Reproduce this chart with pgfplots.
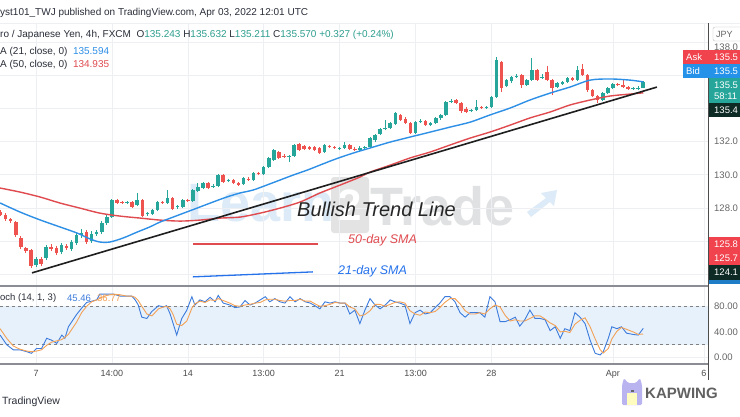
\documentclass[border=0pt]{standalone}
\usepackage{fontspec}
\setmainfont{Liberation Sans}
\usepackage{pgfplots}
\usepackage{pgfplotstable}
\pgfplotsset{compat=1.18}
\definecolor{upc}{HTML}{26A69A}
\definecolor{dnc}{HTML}{EF5350}
\definecolor{smab}{HTML}{2E8FE6}
\definecolor{smar}{HTML}{E04B50}
\definecolor{gridc}{HTML}{EDEFF3}
\definecolor{txt}{HTML}{2A2E39}
\definecolor{kc}{HTML}{3C7BDC}
\definecolor{dc}{HTML}{F3A156}
\definecolor{band}{HTML}{E6F1FC}
\definecolor{tealv}{HTML}{2E9E8F}
\definecolor{askr}{HTML}{F0434D}
\definecolor{bidb}{HTML}{2592EA}
\definecolor{darkg}{HTML}{0E2A24}
\definecolor{sepc}{HTML}{8A8D94}
\definecolor{wmb}{HTML}{DCEBF7}
\definecolor{wmg}{HTML}{E0E1E2}
\definecolor{kap}{HTML}{B9B4F0}
\newcommand\fs[1]{\fontsize{#1}{#1}\selectfont}

\pgfplotstableread{
i o h l c
7 124.56 125.04 124.44 124.92
9 124.98 125.77 124.86 125.65
12 125.35 125.89 125.22 125.77
14 125.53 126.07 125.41 125.95
15 125.89 126.55 125.77 126.37
16 126.37 126.73 126.19 126.49
18 126.01 126.61 125.89 126.43
19 126.43 126.67 126.31 126.55
20 126.55 127.21 126.43 127.09
21 127.09 127.57 126.97 127.45
22 127.45 128.54 127.39 128.48
25 128.30 128.42 128.23 128.36
27 128.17 128.90 128.11 128.48
29 127.63 127.75 127.51 127.69
30 127.63 127.93 127.57 127.87
31 127.87 128.42 127.81 128.36
33 128.30 129.08 128.23 128.60
35 128.05 128.17 127.93 128.11
36 128.05 128.54 127.99 128.48
38 128.42 129.14 128.36 129.08
39 129.02 129.50 128.96 129.26
40 129.20 129.56 129.14 129.50
42 129.26 129.44 129.20 129.32
43 129.32 130.04 129.26 129.98
45 129.62 129.74 129.56 129.68
48 129.44 129.86 129.38 129.80
50 129.68 130.16 129.62 130.10
52 130.04 130.52 129.98 130.46
53 130.46 131.07 130.40 131.01
54 130.89 131.55 130.83 131.49
57 131.07 131.19 130.77 131.13
58 131.13 131.85 131.07 131.79
64 131.37 131.85 131.31 131.79
67 131.55 131.67 131.49 131.61
68 131.61 131.97 131.55 131.79
71 131.49 131.73 131.43 131.61
72 131.61 131.73 131.55 131.67
73 131.67 132.27 131.61 132.21
74 132.09 132.45 131.97 132.39
75 132.45 132.81 132.39 132.75
76 132.75 133.30 132.69 132.81
77 132.81 133.17 132.75 133.11
78 133.05 133.78 132.99 133.72
82 132.51 133.24 132.45 133.17
83 133.17 133.36 133.11 133.24
85 132.99 133.17 132.93 133.11
86 133.11 133.48 133.05 133.42
87 133.42 133.66 133.30 133.60
88 133.60 134.44 133.54 134.38
89 134.38 134.56 134.32 134.44
93 133.84 133.96 133.78 133.90
94 133.90 134.50 133.84 134.08
96 134.02 134.14 133.96 134.08
97 134.08 134.74 134.02 134.68
98 134.68 137.09 134.62 136.91
100 135.34 135.77 135.28 135.70
101 135.64 135.95 135.52 135.89
102 135.89 136.07 135.83 135.95
104 135.40 135.77 135.34 135.70
105 135.70 137.03 135.64 136.31
107 135.83 136.07 135.77 135.89
110 135.28 135.58 135.22 135.52
111 135.46 135.64 135.40 135.58
112 135.58 135.89 135.52 135.83
114 135.70 136.55 135.64 136.31
119 134.50 134.98 134.44 134.92
120 134.92 135.28 134.86 135.22
121 135.22 135.52 135.16 135.46
125 135.16 135.28 135.10 135.20
126 135.16 135.34 135.10 135.24
127 135.243 135.632 135.211 135.570
}\up

\pgfplotstableread{
i o h l c
0 127.75 127.87 127.51 127.57
1 127.57 127.69 127.21 127.33
2 127.33 127.39 127.09 127.21
3 127.15 127.21 126.25 126.37
4 126.19 126.31 125.53 125.65
5 125.59 125.65 125.28 125.41
6 125.47 125.53 124.38 124.50
8 124.92 125.04 124.50 124.62
10 125.65 125.83 125.41 125.53
11 125.59 125.71 125.16 125.28
13 125.71 125.83 125.47 125.59
17 126.55 126.67 125.83 125.95
23 128.48 128.54 128.23 128.30
24 128.36 128.42 128.23 128.30
26 128.36 128.42 127.99 128.05
28 128.48 128.54 127.45 127.51
32 128.36 128.42 128.23 128.30
34 128.60 128.66 127.87 127.93
37 128.48 128.54 128.36 128.42
41 129.50 129.56 129.14 129.20
44 129.98 130.04 129.50 129.56
46 129.68 129.74 129.44 129.50
47 129.50 129.56 129.32 129.38
49 129.74 129.86 129.62 129.68
51 130.10 130.16 129.98 130.04
55 131.37 131.43 130.95 131.01
56 131.13 131.25 131.01 131.07
59 131.85 131.91 131.43 131.49
60 131.73 131.79 131.49 131.55
61 131.67 131.73 131.49 131.55
62 131.67 131.73 131.43 131.49
63 131.61 131.67 131.25 131.31
65 131.73 131.79 131.61 131.67
66 131.67 131.73 131.55 131.61
69 131.79 131.85 131.49 131.55
70 131.55 131.67 131.43 131.49
79 133.60 133.66 133.24 133.30
80 133.36 133.48 133.05 133.11
81 133.11 133.17 132.45 132.51
84 133.24 133.30 132.93 132.99
90 134.50 134.56 134.26 134.32
91 134.32 134.38 133.72 133.84
92 133.96 134.08 133.72 133.78
95 134.08 134.14 133.96 134.02
99 136.79 136.85 134.98 135.22
103 136.01 136.07 135.22 135.40
106 136.31 136.37 135.64 135.70
108 136.19 136.55 135.64 135.70
109 135.70 135.77 134.80 135.22
113 135.83 135.89 135.64 135.70
115 136.37 136.67 135.95 136.01
116 136.01 136.07 134.98 135.10
117 135.10 135.16 134.68 134.74
118 134.74 134.80 134.32 134.50
122 135.46 135.52 135.34 135.40
123 135.40 135.70 135.22 135.28
124 135.28 135.34 135.10 135.16
}\down

\begin{document}
\begin{tikzpicture}
\begin{scope}[x=1pt,y=-1pt]
\fill[white] (0,0) rectangle (740,416);
% watermark (logo)
\node[anchor=west,inner sep=0,text=wmb] at (187,203) {\fs{54}\bfseries Learn};
\fill[black!11,rounded corners=3pt] (331,177) rectangle (369,233);
\node[inner sep=0,text=white] at (350,205) {\fs{44}\bfseries 2};
\node[anchor=west,inner sep=0,text=wmg] at (370,206) {\fs{54}\bfseries Trade};
\fill[wmb] (527,212) -- (546,198) -- (541,193) -- (557,190) -- (554,206) -- (550,202) -- (531,217) -- cycle;
\draw[gridc,line width=0.6pt] (0,23) -- (740,23);
\end{scope}

\begin{axis}[at={(0pt,-285pt)},anchor=south west,width=708pt,height=262pt,scale only axis,
  xmin=-0.12,xmax=139.8,ymin=123.36,ymax=139.14,
  axis line style={draw=none},tick style={draw=none},
  xtick={7,22,37,52,67,82,97,121,139},ytick={124,126,...,138},
  xticklabels={},yticklabels={},grid=major,grid style={gridc,line width=0.6pt}]
% wicks
\addplot[draw=none,error bars/.cd,y dir=plus,y explicit,error mark=none,
  error bar style={draw=upc,line width=0.9pt}]
  table[x=i,y=l,y error plus expr=\thisrow{h}-\thisrow{l}] {\up};
\addplot[draw=none,error bars/.cd,y dir=plus,y explicit,error mark=none,
  error bar style={draw=dnc,line width=0.9pt}]
  table[x=i,y=l,y error plus expr=\thisrow{h}-\thisrow{l}] {\down};
% bodies
\addplot[draw=none,error bars/.cd,y dir=plus,y explicit,error mark=none,
  error bar style={draw=upc,line width=3.5pt}]
  table[x=i,y=o,y error plus expr=\thisrow{c}-\thisrow{o}] {\up};
\addplot[draw=none,error bars/.cd,y dir=plus,y explicit,error mark=none,
  error bar style={draw=dnc,line width=3.5pt}]
  table[x=i,y=c,y error plus expr=\thisrow{o}-\thisrow{c}] {\down};
% SMA 50
\addplot[smar,line width=1.4pt,smooth] coordinates {
(-0.1,129.20)(3.8,128.96)(7.8,128.66)(11.7,128.30)(15.7,127.99)(19.6,127.69)(23.6,127.51)
(27.6,127.39)(31.5,127.27)(35.5,127.21)(39.4,127.27)(43.4,127.39)(47.3,127.45)(51.3,127.69)
(55.2,127.99)(59.2,128.36)(63.1,128.90)(67.1,129.38)(71.0,129.86)(73.0,130.16)(77.0,130.58)
(80.9,131.01)(84.9,131.37)(88.8,131.79)(92.8,132.21)(96.7,132.57)(100.7,132.99)(104.6,133.42)
(108.6,133.78)(112.5,134.20)(116.5,134.50)(120.4,134.74)(124.4,134.86)(127.0,134.935)};
% SMA 21
\addplot[smab,line width=1.4pt,smooth] coordinates {
(-0.1,128.30)(3.8,127.76)(7.8,127.28)(11.7,126.86)(15.1,126.49)(17.7,126.13)(19.6,125.95)
(21.6,125.95)(24.2,126.19)(27.0,126.55)(29.5,126.86)(31.5,127.15)(34.1,127.45)(36.8,127.76)
(39.4,128.06)(42.0,128.36)(44.7,128.66)(47.3,128.90)(49.9,129.08)(52.6,129.38)(55.2,129.68)
(57.8,129.98)(60.6,130.28)(63.1,130.58)(65.7,130.89)(68.5,131.19)(71.0,131.43)(73.0,131.61)
(77.0,131.97)(80.9,132.27)(84.9,132.57)(88.8,132.87)(92.8,133.17)(96.7,133.60)(100.7,134.02)
(104.6,134.50)(108.6,134.92)(112.5,135.28)(116.5,135.70)(120.4,135.77)(124.4,135.70)(127.0,135.594)};
% trend line
\addplot[black!88,line width=1.6pt] coordinates {(6.2,124.09)(129.7,135.28)};
% annotation keys
\addplot[smar,line width=1.3pt] coordinates {(38.0,125.83)(62.7,125.83)};
\addplot[smab!80!blue,line width=1.3pt] coordinates {(38.0,123.85)(61.7,124.15)};
\end{axis}

\begin{axis}[at={(0pt,-364pt)},anchor=south west,width=708pt,height=78pt,scale only axis,
  xmin=-0.12,xmax=139.8,ymin=-10.2,ymax=111.7,
  axis line style={draw=none},tick style={draw=none},
  xtick={7,22,37,52,67,82,97,121,139},
  xticklabels={7,14:00,14,13:00,21,13:00,28,Apr,6},
  xticklabel style={font=\fs{9},text=black!70,yshift=-3pt},
  ytick={0},yticklabels={},grid=major,grid style={gridc,line width=0.6pt}]
\addplot[draw=none,fill=band] coordinates {(-0.12,20)(139.8,20)(139.8,80)(-0.12,80)} -- cycle;
\addplot[black!50,dash pattern=on 3pt off 3pt,line width=0.7pt] coordinates {(-0.12,80)(139.8,80)};
\addplot[black!50,dash pattern=on 3pt off 3pt,line width=0.7pt] coordinates {(-0.12,20)(139.8,20)};
\addplot[kc,line width=0.9pt] coordinates {
(-0.1,35)(1.2,20)(2.5,12)(3.8,12)(5.2,9)(6.1,6.5)(7.1,14)(8.1,14)(9.1,30)(10.1,27)(11.1,22)
(12.1,35)(12.7,30)(13.4,48)(15.0,67)(16.0,77)(17.0,86)(18.0,88)(19.0,90)(19.6,99)(21.0,99)
(22.3,99)(23.6,96)(24.9,96)(25.9,96)(26.6,90)(27.2,82)(27.9,63)(28.9,61)(29.9,72)(30.5,76)
(31.2,81)(32.2,79)(32.8,81)(33.5,68)(34.1,53)(34.8,35)(35.8,61)(36.8,74)(37.8,95)(38.4,82)
(39.4,90)(40.4,87)(41.4,94)(42.4,87)(43.0,97)(44.0,85)(45.3,82)(46.3,78)(47.3,79)(48.3,89)
(49.3,82)(50.3,85)(51.3,90)(52.3,95)(53.2,87)(54.2,92)(55.2,87)(56.2,85)(57.2,95)(58.2,87)
(59.2,92)(60.2,87)(61.2,85)(62.1,81)(63.1,76)(64.1,87)(65.1,85)(66.1,87)(67.1,85)(68.1,85)
(69.0,68)(70.0,74)(71.0,53)(72.0,74)(73.0,92)(74.0,82)(75.0,76)(76.0,82)(77.0,90)(77.9,87)
(78.9,85)(79.9,82)(80.9,53)(81.9,70)(82.9,74)(83.9,68)(84.9,70)(85.9,78)(86.8,85)(87.8,95)
(88.8,95)(89.8,87)(90.8,70)(91.8,63)(92.8,70)(93.8,70)(94.7,70)(95.7,63)(96.7,95)(97.7,87)
(98.7,56)(99.7,56)(100.7,59)(101.7,63)(102.6,49)(103.6,59)(104.6,74)(105.6,61)(106.6,61)
(107.6,59)(108.6,42)(109.6,48)(110.6,30)(111.5,45)(112.5,42)(113.5,70)(114.5,63)(115.5,53)
(116.5,27)(117.5,6.5)(118.5,4)(119.1,9)(120.1,30)(120.8,48)(121.8,45)(122.7,48)(123.7,38)
(125.0,36)(126.0,35)(127.0,45.46)};
\addplot[dc,line width=0.9pt] coordinates {
(-0.1,45)(1.2,30)(2.5,18)(3.8,13)(5.2,10)(6.1,9)(7.1,10)(8.1,12)(9.1,19)(10.1,24)(11.1,26)
(12.1,28)(13.4,36)(15.0,55)(16.0,70)(17.0,80)(18.0,87)(19.0,90)(20.0,94)(21.0,97)(22.3,99)
(23.6,98)(24.9,96)(25.9,96)(26.6,94)(27.2,89)(27.9,80)(28.9,68)(29.9,65)(30.5,70)(31.2,76)
(32.2,79)(32.8,80)(33.5,76)(34.1,67)(34.8,52)(35.8,50)(36.8,57)(37.8,77)(38.4,84)(39.4,88)
(40.4,86)(41.4,90)(42.4,89)(43.0,92)(44.0,89)(45.3,85)(46.3,81)(47.3,80)(48.3,82)(49.3,83)
(50.3,85)(51.3,86)(52.3,90)(53.2,91)(54.2,91)(55.2,89)(56.2,88)(57.2,89)(58.2,89)(59.2,91)
(60.2,88)(61.2,88)(62.1,84)(63.1,80)(64.1,81)(65.1,83)(66.1,86)(67.1,85)(68.1,85)(69.0,79)
(70.0,76)(71.0,65)(72.0,67)(73.0,73)(74.0,83)(75.0,83)(76.0,80)(77.0,83)(77.9,86)(78.9,87)
(79.9,85)(80.9,73)(81.9,68)(82.9,66)(83.9,71)(84.9,70)(85.9,72)(86.8,78)(87.8,86)(88.8,92)
(89.8,92)(90.8,84)(91.8,73)(92.8,68)(93.8,68)(94.7,70)(95.7,68)(96.7,76)(97.7,82)(98.7,79)
(99.7,66)(100.7,57)(101.7,59)(102.6,57)(103.6,57)(104.6,61)(105.6,65)(106.6,65)(107.6,60)
(108.6,54)(109.6,50)(110.6,40)(111.5,41)(112.5,39)(113.5,52)(114.5,58)(115.5,62)(116.5,48)
(117.5,29)(118.5,12)(119.1,7)(120.1,14)(120.8,29)(121.8,41)(122.7,47)(123.7,44)(125.0,40)
(126.0,36)(127.0,36.77)};
\end{axis}

\begin{scope}[x=1pt,y=-1pt]
% pane separators and price-scale divider
\draw[sepc,line width=2pt] (0,285.5) -- (708,285.5);
\draw[sepc,line width=2pt] (0,364) -- (708,364);
\draw[black!70,line width=0.8pt] (708,23) -- (708,380);
% header
\node[anchor=west,inner sep=0,text=txt] at (0,13) {\fs{10}yst101\_TWJ published on TradingView.com, Apr 03, 2022 12:01 UTC};
\node[anchor=west,inner sep=0,text=txt] at (0,35) {\fs{10}ro / Japanese Yen, 4h, FXCM\ \ O\textcolor{tealv}{135.243} H\textcolor{tealv}{135.632} L\textcolor{tealv}{135.211} C\textcolor{tealv}{135.570} \textcolor{tealv}{+0.327 (+0.24\%)}};
\node[anchor=west,inner sep=0,text=txt] at (0,52) {\fs{10}A (21, close, 0)\ \ \textcolor{smab}{135.594}};
\node[anchor=west,inner sep=0,text=txt] at (0,65) {\fs{10}A (50, close, 0)\ \ \textcolor{smar}{134.935}};
% annotations
\node[anchor=west,inner sep=0,text=black!85] at (297,209) {\fs{20}\itshape Bullish Trend Line};
\node[anchor=west,inner sep=0,text=smar] at (348,240) {\fs{12.5}\itshape 50-day SMA};
\node[anchor=west,inner sep=0,text=smab!80!blue] at (338,271) {\fs{12.5}\itshape 21-day SMA};
% stoch legend
\node[anchor=west,inner sep=0,text=txt] at (0,298) {\fs{9.5}och (14, 1, 3)};
\node[anchor=west,inner sep=0,text=kc] at (67,298) {\fs{9.5}45.46};
\node[anchor=west,inner sep=0,text=dc] at (97,298) {\fs{9.5}36.77};
% price scale
\draw[rounded corners=2pt,draw=black!25,fill=white] (713,27) rectangle (746,41);
\node[anchor=west,inner sep=0,text=black!60] at (716,34) {\fs{9}JPY};
\node[anchor=west,inner sep=0,text=black!60] at (714,47) {\fs{9.5}138.0};
\fill[askr] (683,50) rectangle (740,63.5);
\node[anchor=west,inner sep=0,text=white] at (686,57) {\fs{9.5}Ask};
\node[anchor=west,inner sep=0,text=white] at (714,57) {\fs{9.5}135.5};
\fill[bidb] (683,63.5) rectangle (740,78);
\node[anchor=west,inner sep=0,text=white] at (686,71) {\fs{9.5}Bid};
\node[anchor=west,inner sep=0,text=white] at (714,71) {\fs{9.5}135.5};
\fill[upc] (708.5,78) rectangle (740,103);
\node[anchor=west,inner sep=0,text=white] at (714,85) {\fs{9.5}135.5};
\node[anchor=west,inner sep=0,text=white] at (714,96) {\fs{9.5}58:11};
\fill[darkg] (708.5,103) rectangle (740,117);
\node[anchor=west,inner sep=0,text=white] at (714,110) {\fs{9.5}135.4};
\node[anchor=west,inner sep=0,text=black!60] at (714,141.5) {\fs{9.5}132.0};
\node[anchor=west,inner sep=0,text=black!60] at (714,175) {\fs{9.5}130.0};
\node[anchor=west,inner sep=0,text=black!60] at (714,208) {\fs{9.5}128.0};
\fill[askr] (708.5,237) rectangle (740,265);
\node[anchor=west,inner sep=0,text=white] at (714,244) {\fs{9.5}125.8};
\node[anchor=west,inner sep=0,text=white] at (714,258) {\fs{9.5}125.7};
\fill[darkg] (708.5,265) rectangle (740,280);
\node[anchor=west,inner sep=0,text=white] at (714,272.5) {\fs{9.5}124.1};
\fill[bidb!85!black] (708.5,280) rectangle (740,284);
\node[anchor=west,inner sep=0,text=black!60] at (714,306) {\fs{9.5}80.00};
\node[anchor=west,inner sep=0,text=black!60] at (714,332) {\fs{9.5}40.00};
\node[anchor=west,inner sep=0,text=black!60] at (714,357.5) {\fs{9.5}0.00};
% footer
\node[anchor=west,inner sep=0,text=txt] at (2,402) {\fs{10.5}TradingView};
\fill[kap,rounded corners=1.5pt] (622,385) -- (624,378) -- (628,383) -- (636,383) -- (640,378) -- (642,385) -- (642,405) -- (622,405) -- cycle;
\fill[yellow!25] (627,393) rectangle (637,405);
\fill[black!60] (630.5,390) rectangle (633.5,392);
\node[anchor=west,inner sep=0,text=black!62] at (645,393) {\fs{15}\bfseries KAPWING};
\end{scope}
\pgfresetboundingbox
\path[use as bounding box] (0pt,0pt) rectangle (740pt,-416pt);
\end{tikzpicture}
\end{document}
